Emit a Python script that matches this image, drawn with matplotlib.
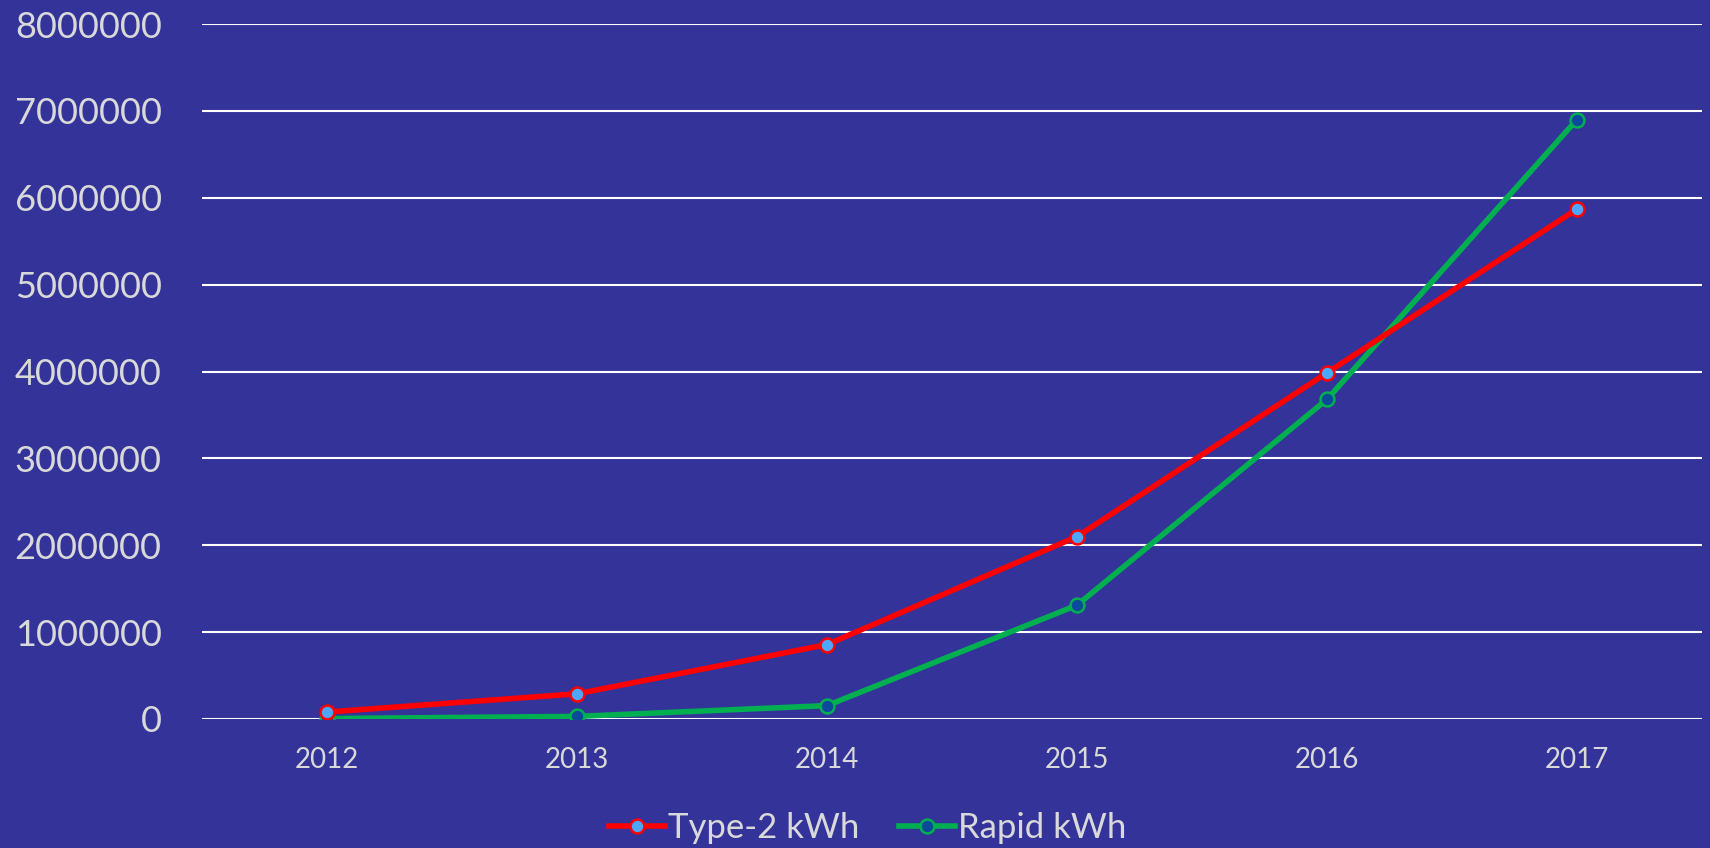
import matplotlib
matplotlib.use("Agg")
import matplotlib.pyplot as plt

years = ["2012", "2013", "2014", "2015", "2016", "2017"]
type2_kwh = [80000, 290000, 857000, 2100000, 3985000, 5870000]
rapid_kwh = [5000, 30000, 154000, 1310000, 3680000, 6900000]
y_ticks = [0, 1000000, 2000000, 3000000, 4000000, 5000000, 6000000, 7000000, 8000000]

bg = "#333399"
txt = "#d9d9d9"

plt.rcParams['font.family'] = ['Lato', 'DejaVu Sans']

fig = plt.figure(figsize=(17.1, 8.48), dpi=100, facecolor=bg)
ax = fig.add_axes([202/1710, (848-719)/848, 1500/1710, 695/848], facecolor=bg)

x = list(range(len(years)))
ax.plot(x, type2_kwh, color="#ff0000", lw=4.0, marker="o", ms=10,
        mfc="#4da6ff", mec="#ff0000", mew=1.8, label="Type-2 kWh", zorder=4)
ax.plot(x, rapid_kwh, color="#00b050", lw=4.0, marker="o", ms=10,
        mfc="#0b4a9a", mec="#00b050", mew=1.8, label="Rapid kWh", zorder=3)

ax.set_xlim(-0.5, len(years) - 0.5)
ax.set_ylim(0, 8000000)
ax.set_yticks(y_ticks)
ax.set_yticklabels([str(v) for v in y_ticks])
ax.set_xticks(x)
ax.set_xticklabels(years)
ax.tick_params(axis='y', length=0, pad=29, labelsize=26, labelcolor=txt)
ax.tick_params(axis='x', length=0, pad=20, labelsize=20, labelcolor=txt)
ax.grid(axis='y', color="white", lw=1.5)
ax.set_axisbelow(True)
for s in ax.spines.values():
    s.set_visible(False)

leg = fig.legend(loc="center", bbox_to_anchor=(868/1710, 1 - 828/848), ncol=2,
                 frameon=False, fontsize=25, handlelength=1.6, handletextpad=0.1,
                 columnspacing=1.15, labelcolor=txt)

fig.savefig("out.png", dpi=100, facecolor=bg)
